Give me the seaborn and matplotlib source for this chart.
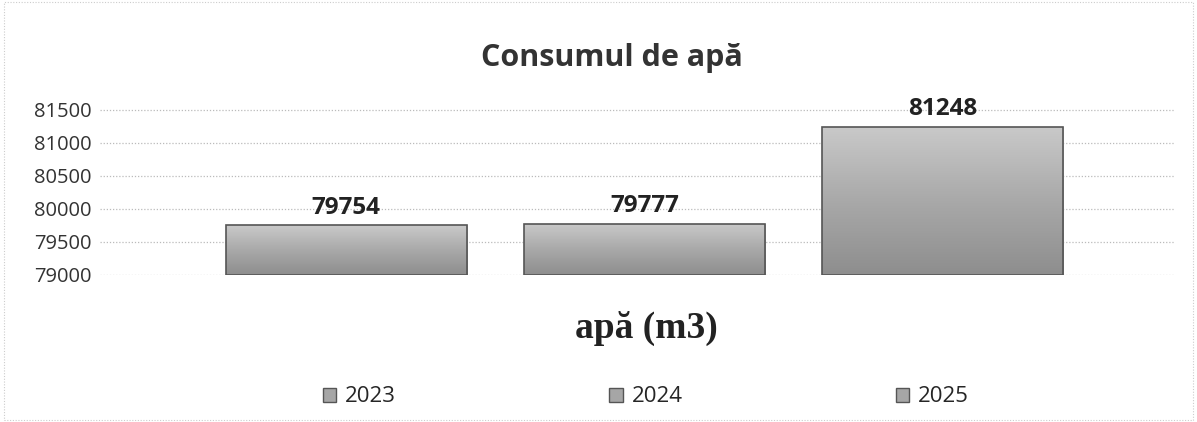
import numpy as np
import pandas as pd
import matplotlib.pyplot as plt
import seaborn as sns
from matplotlib.patches import Rectangle
from matplotlib.colors import LinearSegmentedColormap

# Data
years = ["2023", "2024", "2025"]
consum = [79754, 79777, 81248]
base = 79000
y_ticks = [79000, 79500, 80000, 80500, 81000, 81500]

df = pd.DataFrame({"An": years, "Consum": consum})
df["Inaltime"] = df["Consum"] - base

sns.set_theme(style="white")
plt.rcParams["font.family"] = ["Open Sans", "DejaVu Sans"]

bar_color = "#a6a6a6"
edge_color = "#555555"

fig = plt.figure(figsize=(11.97, 4.22), dpi=100)
ax = fig.add_axes([100 / 1197, 1 - 275 / 422, 1075 / 1197, 175 / 422])

sns.barplot(data=df, x="An", y="Inaltime", hue="An", bottom=base,
            palette=[bar_color] * 3, width=0.81,
            edgecolor=edge_color, linewidth=1.2, legend=False, ax=ax)

ax.set_xlim(-0.826, 2.78)
ax.set_ylim(base, 81650)

# soft grey gradient inside each bar (lighter on top)
grad = LinearSegmentedColormap.from_list("g", ["#8e8e8e", "#a9a9a9", "#c9c9c9"])
for p in ax.patches:
    x0, y0 = p.get_x(), p.get_y()
    w, h = p.get_width(), p.get_height()
    img = ax.imshow(np.linspace(0, 1, 64).reshape(-1, 1), cmap=grad, origin="lower",
                    extent=[x0, x0 + w, y0, y0 + h], aspect="auto", zorder=p.get_zorder())
    img.set_clip_path(p)
    p.set_facecolor("none")
    p.set_zorder(p.get_zorder() + 0.1)
ax.set_xlim(-0.826, 2.78)
ax.set_ylim(base, 81650)

ax.set_yticks(y_ticks)
ax.set_yticklabels([str(t) for t in y_ticks], fontsize=14.5, color="#333333")
ax.tick_params(axis="y", length=0, pad=6)
ax.set_xticks([])
ax.set_xlabel("")
ax.set_ylabel("")
for s in ax.spines.values():
    s.set_visible(False)
ax.yaxis.grid(True, linestyle=(0, (1, 1.5)), color="#bbbbbb", linewidth=0.9)
ax.set_axisbelow(True)

# value labels
for i, v in enumerate(consum):
    ax.text(i, v + 85, str(v), ha="center", va="bottom", fontsize=17.5,
            fontweight="bold", color="#222222", clip_on=False)

fig.text(612 / 1197, 1 - 58 / 422, "Consumul de apă", ha="center", va="center",
         fontsize=22, fontweight="bold", color="#333333")
fig.text(646 / 1197, 1 - 328 / 422, "apă (m3)", ha="center", va="center",
         fontsize=27, fontweight="bold", family="Liberation Serif", color="#222222")

# legend
handles = [Rectangle((0, 0), 1, 1, facecolor=bar_color, edgecolor=edge_color)
           for _ in years]
fig.legend(handles, years, loc="center", bbox_to_anchor=(646 / 1197, 1 - 397 / 422),
           ncol=3, frameon=False, columnspacing=9.6,
           handlelength=0.6, handleheight=0.6, handletextpad=0.4,
           prop={"family": "Open Sans", "size": 16})

# chart border
fig.patches.append(Rectangle((0.003, 0.005), 0.994, 0.99, transform=fig.transFigure,
                             fill=False, edgecolor="#cccccc", linestyle=(0, (1, 1.5)),
                             linewidth=0.8))

fig.savefig("out.png", dpi=100, facecolor="white")
